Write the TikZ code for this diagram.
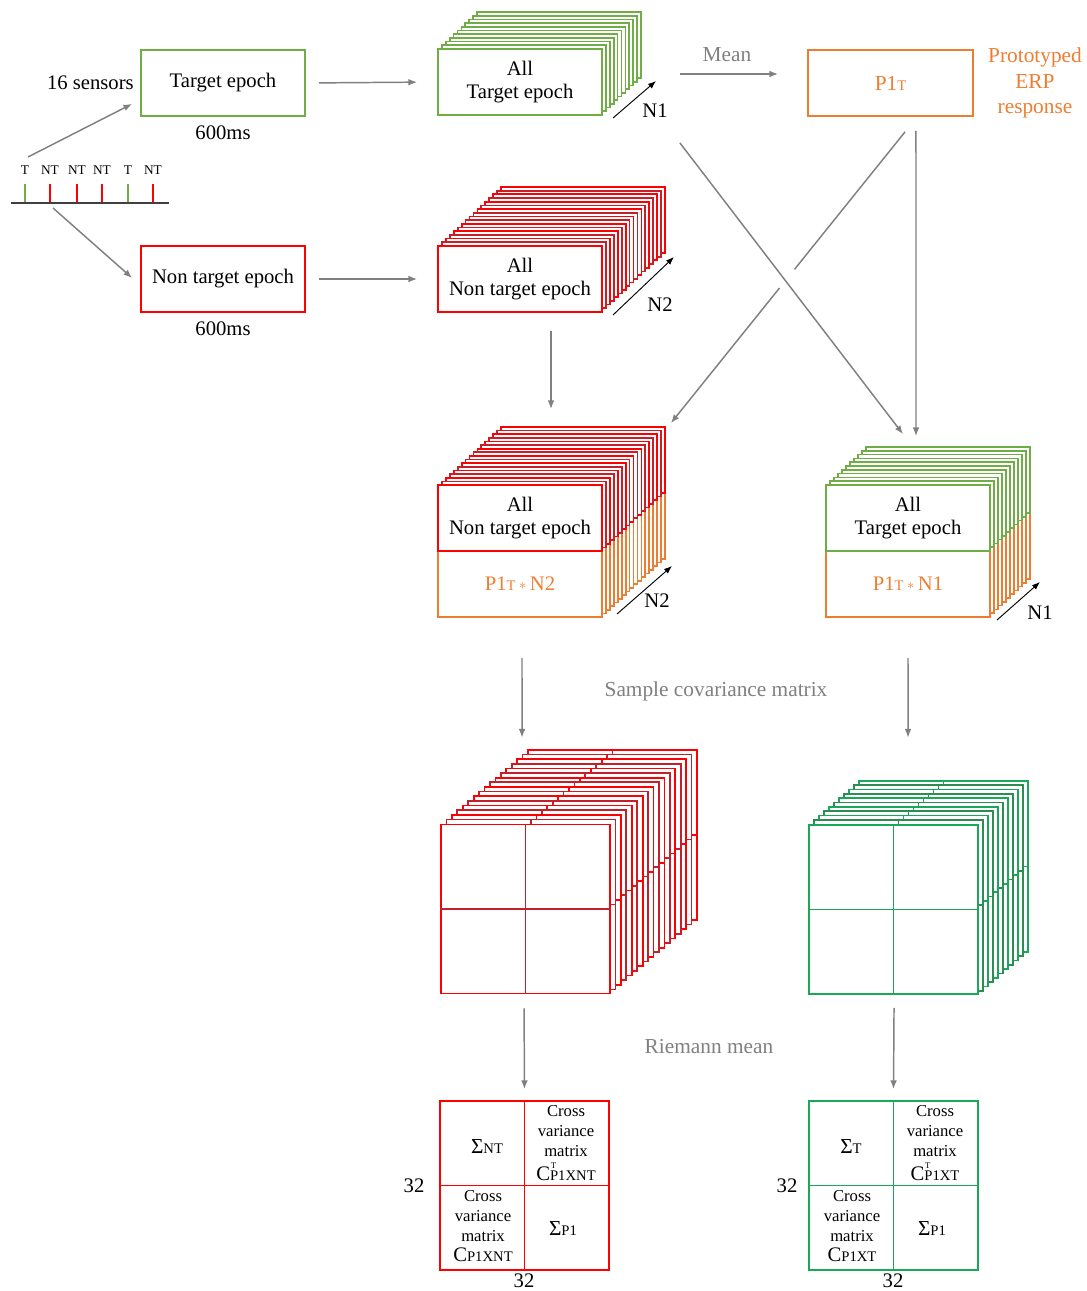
\documentclass[tikz,border=0pt]{standalone}
\usepackage{fontspec}
\setmainfont{Liberation Serif}
\usetikzlibrary{arrows.meta,calc}

\definecolor{epochgreen}{RGB}{112,173,71}
\definecolor{epochred}{RGB}{255,0,0}
\definecolor{darkred}{RGB}{196,32,44}
\definecolor{protoorange}{RGB}{237,125,49}
\definecolor{flowgray}{RGB}{128,128,128}
\definecolor{covgreen}{RGB}{24,168,88}
\definecolor{darkgreen}{RGB}{44,140,84}

\newcommand{\sml}[1]{{\fontsize{11}{11}\selectfont #1}}
\newcommand{\bigC}{{\fontsize{15.5}{15.5}\selectfont C}}
\newcommand{\bigS}{{\fontsize{16}{16}\selectfont Σ}}
\newcommand{\crossT}[1]{\bigC\rlap{\raisebox{1.55ex}{\fontsize{6.5}{6.5}\selectfont\kern0.5pt T}}\sml{#1}}
\newcommand{\protomult}{\,\raisebox{0.15ex}{\fontsize{11}{11}\selectfont$\ast$}\,}

\tikzset{
  box/.style={draw, line width=1.3pt, fill=white, minimum width=123pt, minimum height=49.5pt, inner sep=0pt, align=center},
  layer/.style={line width=1.3pt, fill=white},
  cell/.style={inner sep=0pt, align=center, font=\fontsize{12.5}{15}\selectfont},
  flow/.style={draw=flowgray, line width=1.1pt, -{Latex[length=6.5pt,width=5pt]}},
  count/.style={black, line width=0.7pt, -{Latex[length=6pt,width=4.5pt]}},
  note/.style={text=flowgray, font=\fontsize{16}{18}\selectfont},
}

\begin{document}
\begin{tikzpicture}[x=0.75pt,y=0.75pt,yscale=-1,xscale=1, font=\fontsize{15.5}{17}\selectfont]
\useasboundingbox (0,0) rectangle (1086,1291);

%Timeline of events
\draw [black!75, line width=0.8pt] (11,203) coordinate (tl0) -- (169,203) coordinate (tl1) ;
\foreach \x/\c/\l in {25/epochgreen/T, 50/epochred/NT, 77/epochred/NT, 102/epochred/NT, 128/epochgreen/T, 153/epochred/NT}{
  \draw [\c, line width=2.2pt] (\x,184) -- (\x,202) ;
  \node [font=\fontsize{10}{10}\selectfont] (ev\x) at (\x,170) {\l};
}
\coordinate (tlup) at (28,157);
\coordinate (tldown) at (53,208);

% Epoch boxes
\node [box, draw=epochgreen] (tgt) at (223,83) {Target epoch};
\node (tgtms) at (223,133) {600ms};
\node [box, draw=epochred] (ntgt) at (223,279) {Non target epoch};
\node (ntgtms) at (223,329) {600ms};
\node [anchor=east, inner sep=0pt] (sensors) at (134,83) {16 sensors};

\draw [flow] (tlup) -- ([xshift=-6pt,yshift=-9.75pt]tgt.south west) ;
\draw [flow] (tldown) -- ([xshift=-6pt,yshift=-0.75pt]ntgt.west) ;

%Stack: all target epochs
\foreach \i in {10,...,1}
  \draw [layer, draw=epochgreen] (438+\i*3.9,49-\i*3.7) rectangle ++(164,66) ;
\node [box, draw=epochgreen] (allT) at (520,82) {All\\Target epoch};
\draw [count] (613,118) coordinate (n1a) -- (656,81) coordinate (n1b) ;
\node (n1lab) at (655,111) {N1};

%Stack: all non target epochs
\foreach \i in {16,...,1}{
  \ifodd\i\def\lc{darkred}\else\def\lc{epochred}\fi
  \draw [layer, draw=\lc] (438+\i*3.94,246-\i*3.69) rectangle ++(164,66) ;
}
\node [box, draw=epochred] (allNT) at (520,279) {All\\Non target epoch};
\draw [count] (613,315) coordinate (n2a) -- (674,257) coordinate (n2b) ;
\node (n2lab) at (660,305) {N2};

\draw [flow, shorten <=9.75pt, shorten >=15pt] (tgt.east) -- (allT.west) ;
\draw [flow, shorten <=9.75pt, shorten >=15pt] (ntgt.east) -- (allNT.west) ;

% Prototype
\node [box, draw=protoorange, text=protoorange, minimum width=123.75pt, font=\fontsize{16}{18}\selectfont] (proto) at (890.5,83) {P1\sml{T}};
\node [text=protoorange, align=center, font=\fontsize{16}{19}\selectfont] (erp) at (1035,83) {Prototyped\\ERP\\response};
\node [note] (meanlab) at (727,55) {Mean};
\draw [flow] ([xshift=57.75pt,yshift=-6pt]allT.east) -- ([xshift=-21.75pt,yshift=-6.75pt]proto.west) ;

%Stack: non target epochs with prototype
\foreach \i in {16,...,1}{
  \ifodd\i\def\lc{darkred}\else\def\lc{epochred}\fi
  \draw [layer, draw=protoorange] (438+\i*3.94,551-\i*3.63) rectangle ++(164,66) ;
  \draw [layer, draw=\lc] (438+\i*3.94,485-\i*3.63) rectangle ++(164,66) ;
}
\node [box, draw=protoorange, text=protoorange] (pNT) at (520,584) {P1\sml{T}\protomult N2};
\node [box, draw=epochred] (allNT2) at (520,518) {All\\Non target epoch};
\draw [count] (617,614) coordinate (n2c) -- (672,566) coordinate (n2d) ;
\node (n2lab2) at (657,601) {N2};

%Stack: target epochs with prototype
\foreach \i in {10,...,1}{
  \draw [layer, draw=protoorange] (826+\i*4,551-\i*3.8) rectangle ++(164,66) ;
  \draw [layer, draw=epochgreen] (826+\i*4,485-\i*3.8) rectangle ++(164,66) ;
}
\node [box, draw=protoorange, text=protoorange] (pT) at (908,584) {P1\sml{T}\protomult N1};
\node [box, draw=epochgreen] (allT2) at (908,518) {All\\Target epoch};
\draw [count] (997,620) coordinate (n1c) -- (1040,582) coordinate (n1d) ;
\node (n1lab2) at (1040,613) {N1};

%Crossing connectors
\draw [flow] ([xshift=23.25pt,yshift=13.5pt]allNT.south) -- ([xshift=23.25pt,yshift=-56.25pt]allNT2.north) ;
\draw [flow] ([xshift=19.1pt,yshift=10.5pt]proto.south) -- ([xshift=6pt,yshift=-36pt]allT2.north) ;
\coordinate (bS) at ([xshift=10.9pt,yshift=11.25pt]proto.south);
\coordinate (bE) at ([xshift=51pt,yshift=-45.75pt]allNT2.north east);
\draw [flowgray, line width=1.1pt] (bS) -- ($(bS)!0.472!(bE)$) ;
\draw [flow] ($(bS)!0.536!(bE)$) -- (bE) ;
\draw [flow] ([xshift=57.75pt,yshift=20.25pt]allT.south east) -- ([xshift=-3.75pt,yshift=-37.5pt]allT2.north) ;

%Cube: non target covariance matrices
\foreach \i in {16,...,1}{
  \ifodd\i\def\lc{darkred}\else\def\lc{epochred}\fi
  \draw [layer, draw=\lc] (441+\i*5.44,824-\i*4.63) rectangle ++(169,170) ;
  \draw [\lc, line width=1.3pt] (525.5+\i*5.44,824-\i*4.63) -- ++(0,170) (441+\i*5.44,909-\i*4.63) -- ++(169,0) ;
}
\node [draw=epochred, line width=1.3pt, fill=white, minimum size=126.75pt, inner sep=0pt] (covNT) at (525.5,909) {};
\draw [darkred, line width=1.2pt] (covNT.north) -- (covNT.south) (covNT.west) -- (covNT.east) ;

%Cube: target covariance matrices
\foreach \i in {10,...,1}{
  \ifodd\i\def\lc{darkgreen}\else\def\lc{covgreen}\fi
  \draw [layer, draw=\lc] (809+\i*5,824-\i*4.3) rectangle ++(169,171) ;
  \draw [\lc, line width=1.3pt] (893.5+\i*5,824-\i*4.3) -- ++(0,171) (809+\i*5,909.5-\i*4.3) -- ++(169,0) ;
}
\node [draw=covgreen, line width=1.3pt, fill=white, minimum size=126.75pt, inner sep=0pt] (covT) at (893.5,909.5) {};
\draw [covgreen, line width=1.2pt] (covT.north) -- (covT.south) (covT.west) -- (covT.east) ;

\node [note] (scmlab) at (716,691) {Sample covariance matrix};
\draw [flow] ([xshift=1.5pt,yshift=30pt]pNT.south) -- ([xshift=-2.6pt,yshift=-64.5pt]covNT.north) ;
\draw [flow] ([yshift=30pt]pT.south) -- ([xshift=10.9pt,yshift=-64.9pt]covT.north) ;

%Matrix: Riemann mean, non target
\node [draw=epochred, line width=1.3pt, minimum size=126.75pt, inner sep=0pt] (matNT) at (524.5,1185.5) {};
\draw [epochred, line width=1.3pt] (matNT.north) -- (matNT.south) (matNT.west) -- (matNT.east) ;
\node [cell] (sigNT) at (487,1147) {\bigS\sml{NT}};
\node [cell] (crNT) at (566,1143) {Cross\\variance\\matrix\\[3pt]\crossT{P1XNT}};
\node [cell] (clNT) at (483,1226) {Cross\\variance\\matrix\\\bigC\sml{P1XNT}};
\node [cell] (sigPNT) at (563,1229) {\bigS\sml{P1}};
\node (rowNT) at (414,1186) {32};
\node (colNT) at (524,1281) {32};

%Matrix: Riemann mean, target
\node [draw=covgreen, line width=1.3pt, minimum size=126.75pt, inner sep=0pt] (matT) at (893.5,1185.5) {};
\draw [covgreen, line width=1.3pt] (matT.north) -- (matT.south) (matT.west) -- (matT.east) ;
\node [cell] (sigT) at (851,1147) {\bigS\sml{T}};
\node [cell] (crT) at (935,1143) {Cross\\variance\\matrix\\[3pt]\crossT{P1XT}};
\node [cell] (clT) at (852,1226) {Cross\\variance\\matrix\\\bigC\sml{P1XT}};
\node [cell] (sigPT) at (932,1229) {\bigS\sml{P1}};
\node (rowT) at (787,1186) {32};
\node (colT) at (893,1281) {32};

\node [note] (rmlab) at (709,1047) {Riemann mean};
\draw [flow] ([xshift=-1.1pt,yshift=10.5pt]covNT.south) -- ([yshift=-8.25pt]matNT.north) ;
\draw [flow] ([xshift=0.4pt,yshift=9.75pt]covT.south) -- ([yshift=-8.25pt]matT.north) ;

\end{tikzpicture}
\end{document}
